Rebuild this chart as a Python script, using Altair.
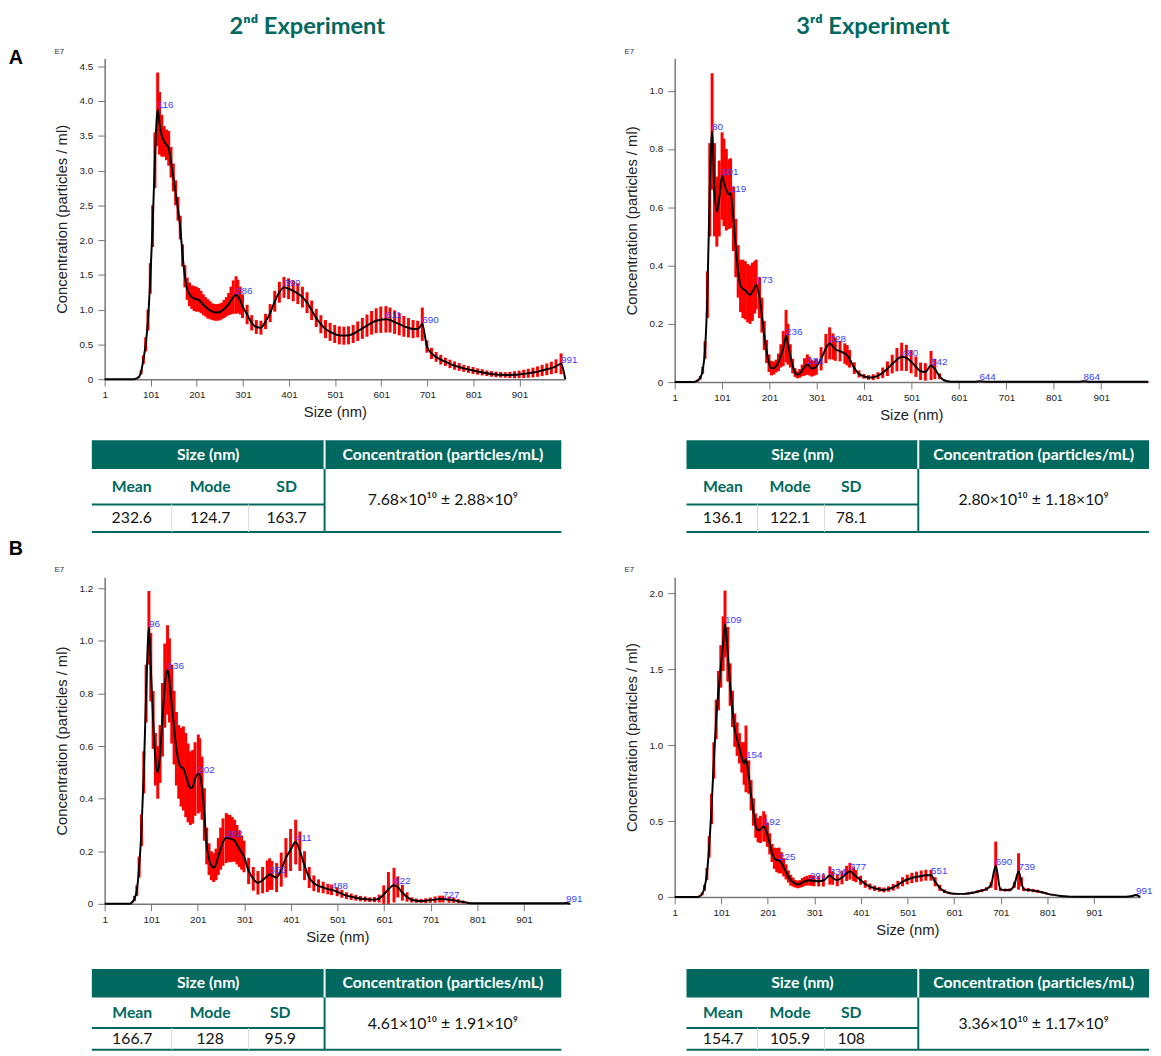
import altair as alt
import pandas as pd

TEAL = "#00695f"
RED = "#ff0000"
BLUE = "#3c3cff"

# ---------------- 2nd Experiment, panel A ----------------
a2_x = [1,5,10,15,20,25,30,35,40,45,50,55,60,65,70,75,80,85,90,95,100,105,110,116,120,125,130,135,140,145,150,155,160,165,170,175,180,185,190,195,200,205,210,215,220,225,230,235,240,245,250,255,260,265,270,275,280,286,290,295,300,
        310,320,330,340,350,360,370,380,390,400,410,420,430,440,450,460,470,480,490,500,510,520,530,540,550,560,570,580,590,600,611,
        620,630,640,650,660,670,680,690,700,710,720,730,740,750,760,770,780,790,800,810,820,830,840,850,860,870,880,890,900,910,920,930,940,950,960,970,980,991,1000]
a2_y = [0,0,0,0,0,0,0,0,0,0,0,0,0,0,0.01,0.03,0.10,0.28,0.50,0.85,1.45,2.20,3.15,3.88,3.68,3.50,3.42,3.37,3.32,3.12,2.90,2.68,2.45,2.18,1.78,1.48,1.30,1.22,1.18,1.16,1.15,1.14,1.11,1.07,1.04,1.01,0.99,0.97,0.96,0.96,0.965,0.98,1.01,1.04,1.08,1.13,1.18,1.21,1.19,1.13,1.05,
        0.93,0.81,0.75,0.74,0.83,0.95,1.12,1.25,1.32,1.30,1.27,1.23,1.18,1.10,0.99,0.88,0.79,0.72,0.68,0.65,0.63,0.625,0.63,0.65,0.69,0.73,0.77,0.81,0.84,0.855,0.86,
        0.85,0.82,0.79,0.76,0.74,0.72,0.72,0.79,0.47,0.37,0.32,0.28,0.25,0.22,0.195,0.175,0.155,0.14,0.125,0.11,0.098,0.085,0.075,0.068,0.063,0.06,0.06,0.063,0.068,0.076,0.085,0.095,0.108,0.125,0.142,0.16,0.185,0.22,0.0]
a2_err = [0,0,0,0,0,0,0,0,0,0,0,0,0,0,0.005,0.01,0.03,0.06,0.10,0.15,0.22,0.30,0.40,0.53,0.45,0.30,0.22,0.22,0.25,0.22,0.20,0.18,0.17,0.17,0.16,0.16,0.16,0.17,0.17,0.18,0.18,0.17,0.16,0.15,0.14,0.14,0.13,0.12,0.12,0.12,0.12,0.12,0.13,0.14,0.16,0.20,0.24,0.27,0.24,0.20,0.17,
          0.14,0.11,0.10,0.10,0.11,0.13,0.15,0.15,0.15,0.15,0.15,0.15,0.15,0.15,0.14,0.13,0.13,0.13,0.13,0.13,0.13,0.13,0.13,0.13,0.14,0.15,0.16,0.17,0.18,0.19,0.19,
          0.18,0.17,0.16,0.15,0.14,0.13,0.12,0.24,0.09,0.08,0.07,0.07,0.06,0.06,0.06,0.055,0.05,0.05,0.05,0.045,0.045,0.04,0.04,0.04,0.04,0.04,0.045,0.05,0.055,0.06,0.065,0.07,0.075,0.08,0.085,0.09,0.10,0.15,0]
a2_peaks = [116, 286, 390, 611, 690, 991]

# ---------------- 3rd Experiment, panel A ----------------
a3_x = [1,5,10,15,20,25,30,35,40,45,50,55,60,65,70,75,80,85,90,95,101,105,110,115,119,125,130,135,140,145,150,155,160,165,170,173,180,185,190,195,200,205,210,215,220,225,230,236,240,245,250,255,260,265,270,275,281,285,290,295,300,
        310,320,328,335,340,350,360,365,370,380,390,400,410,420,430,440,450,460,470,480,490,500,510,520,530,542,550,560,570,580,590,600,610,620,630,640,644,650,
        660,670,680,690,700,710,720,730,740,750,760,770,780,790,800,810,820,830,840,850,860,864,870,880,890,900,910,920,930,940,950,960,970,980,990,1000]
a3_y = [0,0,0,0,0,0,0,0,0,0.002,0.006,0.015,0.04,0.11,0.30,0.66,0.86,0.66,0.585,0.63,0.707,0.685,0.66,0.645,0.648,0.56,0.46,0.38,0.33,0.32,0.315,0.305,0.30,0.31,0.325,0.335,0.29,0.23,0.16,0.105,0.065,0.048,0.048,0.055,0.068,0.09,0.115,0.158,0.13,0.09,0.055,0.033,0.025,0.03,0.04,0.052,0.06,0.055,0.047,0.048,0.053,
        0.08,0.115,0.133,0.122,0.113,0.106,0.098,0.092,0.08,0.048,0.028,0.02,0.016,0.017,0.022,0.032,0.046,0.062,0.077,0.087,0.083,0.07,0.053,0.037,0.035,0.057,0.045,0.02,0.006,0.002,0.001,0.001,0.001,0.001,0.001,0.002,0.003,0.002,
        0.001,0.001,0.001,0.001,0.001,0.001,0.001,0.001,0.001,0.001,0.001,0.001,0.001,0.001,0.001,0.001,0.001,0.001,0.001,0.001,0.002,0.003,0.002,0.001,0.001,0.001,0.001,0.001,0.001,0.001,0.001,0.001,0.001,0.001,0.001,0.001]
a3_err = [0,0,0,0,0,0,0,0,0,0.001,0.003,0.006,0.012,0.03,0.08,0.16,0.20,0.16,0.12,0.13,0.15,0.15,0.14,0.12,0.12,0.11,0.10,0.09,0.09,0.10,0.10,0.10,0.10,0.10,0.09,0.085,0.07,0.06,0.05,0.04,0.03,0.025,0.022,0.022,0.03,0.04,0.06,0.09,0.07,0.04,0.025,0.015,0.012,0.015,0.02,0.03,0.035,0.032,0.028,0.026,0.028,
          0.04,0.05,0.055,0.045,0.04,0.035,0.035,0.035,0.03,0.02,0.012,0.008,0.008,0.01,0.012,0.018,0.025,0.032,0.04,0.048,0.045,0.04,0.035,0.03,0.03,0.05,0.035,0.01,0.003,0.001,0.001,0.001,0.001,0.001,0.001,0.002,0.002,0.002,
          0.001,0.001,0.001,0.001,0.001,0.001,0.001,0.001,0.001,0.001,0.001,0.001,0.001,0.001,0.001,0.001,0.001,0.001,0.001,0.001,0.002,0.002,0.002,0.001,0.001,0.001,0.001,0.001,0.001,0.001,0.001,0.001,0.001,0.001,0.001,0.001]
a3_peaks = [80, 101, 119, 173, 236, 281, 328, 480, 542, 644, 864]

# ---------------- 2nd Experiment, panel B ----------------
b2_x = [1,5,10,15,20,25,30,35,40,45,50,55,60,65,70,75,80,85,90,96,100,105,110,115,120,125,130,136,140,145,150,155,160,165,170,175,180,185,190,195,202,205,210,215,220,225,230,235,240,245,250,255,262,265,270,275,280,285,290,295,300,
        310,320,330,340,350,355,360,370,380,390,400,411,420,430,440,450,460,470,480,488,500,510,520,530,540,550,560,570,580,590,600,610,622,630,640,650,660,670,680,690,700,710,720,727,
        740,750,760,770,780,790,800,810,820,830,840,850,860,870,880,890,900,910,920,930,940,950,960,970,980,991,1000]
b2_y = [0,0,0,0,0,0,0,0,0,0,0,0,0.006,0.02,0.05,0.14,0.28,0.50,0.80,1.05,0.90,0.70,0.55,0.50,0.57,0.70,0.83,0.89,0.85,0.76,0.67,0.59,0.54,0.52,0.515,0.49,0.46,0.44,0.445,0.475,0.494,0.49,0.44,0.34,0.22,0.17,0.145,0.138,0.15,0.18,0.21,0.235,0.25,0.25,0.248,0.245,0.24,0.225,0.21,0.195,0.18,
        0.125,0.095,0.08,0.09,0.105,0.113,0.108,0.10,0.13,0.175,0.205,0.235,0.20,0.145,0.10,0.078,0.068,0.062,0.056,0.053,0.046,0.038,0.031,0.027,0.023,0.02,0.018,0.016,0.016,0.02,0.035,0.056,0.071,0.064,0.042,0.026,0.015,0.012,0.011,0.012,0.014,0.016,0.018,0.018,
        0.016,0.014,0.01,0.007,0.004,0.002,0.002,0.002,0.002,0.002,0.002,0.002,0.002,0.002,0.002,0.002,0.002,0.002,0.002,0.002,0.002,0.002,0.002,0.002,0.002,0.003,0.0]
b2_err = [0,0,0,0,0,0,0,0,0,0,0,0,0.003,0.01,0.02,0.04,0.06,0.08,0.11,0.14,0.13,0.11,0.10,0.10,0.11,0.14,0.16,0.17,0.16,0.15,0.14,0.14,0.14,0.15,0.16,0.16,0.15,0.14,0.14,0.14,0.15,0.14,0.12,0.10,0.07,0.06,0.055,0.055,0.06,0.07,0.08,0.09,0.095,0.09,0.09,0.085,0.08,0.075,0.07,0.065,0.06,
          0.05,0.045,0.045,0.05,0.06,0.06,0.055,0.055,0.065,0.075,0.08,0.085,0.075,0.055,0.04,0.03,0.025,0.022,0.02,0.02,0.017,0.015,0.013,0.012,0.011,0.01,0.01,0.009,0.01,0.015,0.035,0.065,0.066,0.04,0.03,0.018,0.01,0.008,0.008,0.009,0.01,0.012,0.013,0.013,
          0.012,0.01,0.008,0.006,0.003,0.002,0.001,0.001,0.001,0.001,0.001,0.001,0.001,0.001,0.001,0.001,0.001,0.001,0.001,0.001,0.001,0.001,0.001,0.001,0.001,0.003,0]
b2_peaks = [96, 136, 202, 262, 355, 411, 488, 622, 727, 991]

# ---------------- 3rd Experiment, panel B ----------------
b3_x = [1,5,10,15,20,25,30,35,40,45,50,55,60,65,70,75,80,85,90,95,100,105,109,115,120,125,130,135,140,145,150,154,160,165,170,175,180,185,192,195,200,205,210,215,220,225,230,235,240,245,250,255,260,265,270,275,280,285,291,295,300,
        310,320,334,340,350,360,370,377,385,390,400,410,420,430,440,450,460,470,480,490,500,510,520,530,540,551,560,570,580,590,600,610,620,630,640,650,660,670,680,690,700,710,720,730,739,745,750,
        760,770,780,790,800,810,820,830,840,850,860,870,880,890,900,910,920,930,940,950,960,970,980,991,1000]
b3_y = [0,0,0,0,0,0,0,0,0,0,0,0.005,0.02,0.06,0.15,0.33,0.58,0.90,1.17,1.36,1.52,1.67,1.80,1.60,1.40,1.24,1.10,1.04,0.98,0.92,0.88,0.91,0.79,0.67,0.56,0.47,0.44,0.445,0.465,0.455,0.41,0.35,0.29,0.255,0.243,0.24,0.225,0.195,0.165,0.135,0.11,0.098,0.087,0.082,0.086,0.095,0.103,0.107,0.11,0.108,0.105,
        0.104,0.108,0.141,0.125,0.11,0.128,0.155,0.169,0.15,0.137,0.11,0.085,0.068,0.057,0.05,0.046,0.052,0.063,0.08,0.10,0.115,0.125,0.132,0.138,0.143,0.143,0.10,0.06,0.037,0.026,0.021,0.02,0.02,0.022,0.027,0.034,0.042,0.052,0.08,0.205,0.05,0.045,0.046,0.08,0.168,0.10,0.05,
        0.046,0.042,0.037,0.03,0.022,0.015,0.01,0.006,0.004,0.002,0.001,0.001,0.001,0.001,0.001,0.001,0.001,0.001,0.001,0.001,0.001,0.001,0.004,0.012,0.0]
b3_err = [0,0,0,0,0,0,0,0,0,0,0,0.003,0.01,0.02,0.04,0.07,0.10,0.12,0.13,0.13,0.14,0.18,0.22,0.18,0.14,0.12,0.11,0.11,0.10,0.10,0.14,0.22,0.11,0.10,0.09,0.08,0.08,0.09,0.10,0.09,0.08,0.07,0.06,0.07,0.08,0.085,0.07,0.06,0.05,0.04,0.035,0.03,0.025,0.025,0.025,0.03,0.03,0.032,0.035,0.035,0.035,
          0.035,0.04,0.06,0.045,0.04,0.045,0.05,0.055,0.045,0.04,0.03,0.025,0.02,0.018,0.016,0.016,0.018,0.022,0.026,0.03,0.032,0.034,0.035,0.036,0.036,0.036,0.03,0.02,0.012,0.008,0.006,0.006,0.006,0.007,0.008,0.009,0.01,0.012,0.02,0.16,0.012,0.01,0.01,0.02,0.12,0.03,0.012,
          0.012,0.011,0.01,0.008,0.006,0.005,0.003,0.002,0.001,0.001,0.001,0.001,0.001,0.001,0.001,0.001,0.001,0.001,0.001,0.001,0.001,0.001,0.002,0.005,0]
b3_peaks = [109, 154, 192, 225, 291, 334, 377, 551, 690, 739, 991]

# ---------------- tables ----------------
stat_names = ["Mean", "Mode", "SD"]
table_headers = ["Size (nm)", "Concentration (particles/mL)"]
a2_stats = ["232.6", "124.7", "163.7"]
a3_stats = ["136.1", "122.1", "78.1"]
b2_stats = ["166.7", "128", "95.9"]
b3_stats = ["154.7", "105.9", "108"]
a2_conc = "7.68×10¹⁰ ± 2.88×10⁹"
a3_conc = "2.80×10¹⁰ ± 1.18×10⁹"
b2_conc = "4.61×10¹⁰ ± 1.91×10⁹"
b3_conc = "3.36×10¹⁰ ± 1.17×10⁹"

TFONT = "Lato"
AFONT = "Liberation Sans"


def make_table(stats, conc, lay):
    W = lay["W"]
    h0, h1, h2 = lay["rows"]
    H = h0 + h1 + h2
    div = lay["div"]
    e1, e2 = lay["edges"]
    c = lay["centers"]
    tx = alt.Scale(domain=[0, W], range=[lay["x0"], lay["x0"] + W], nice=False, zero=False)
    ty = alt.Scale(domain=[0, H], range=[lay["y0"], lay["y0"] + H], nice=False, zero=False)

    def X(f):
        return alt.X(f, type="quantitative", scale=tx, axis=None)

    def Y(f):
        return alt.Y(f, type="quantitative", scale=ty, axis=None)

    head = alt.Chart(pd.DataFrame({"x": [0], "x2": [W], "y": [0], "y2": [h0]})).mark_rect(
        color=TEAL).encode(x=X("x"), x2="x2", y=Y("y"), y2="y2")
    teal_lines = alt.Chart(pd.DataFrame({
        "x": [0, 0, div], "x2": [div, W, div], "y": [h0 + h1, H, h0], "y2": [h0 + h1, H, H]})).mark_rule(
        color=TEAL, strokeWidth=2).encode(x=X("x"), x2="x2", y=Y("y"), y2="y2")
    white_line = alt.Chart(pd.DataFrame({"x": [div], "x2": [div], "y": [0], "y2": [h0]})).mark_rule(
        color="white", strokeWidth=2).encode(x=X("x"), x2="x2", y=Y("y"), y2="y2")
    grey_lines = alt.Chart(pd.DataFrame({"x": [e1, e2], "x2": [e1, e2], "y": [h0 + h1] * 2, "y2": [H] * 2})).mark_rule(
        color="#d8d8d8", strokeWidth=1).encode(x=X("x"), x2="x2", y=Y("y"), y2="y2")
    head_txt = alt.Chart(pd.DataFrame({"t": table_headers, "x": [div / 2, (div + W) / 2], "y": [h0 / 2] * 2})).mark_text(
        font=TFONT, fontSize=16, fontWeight="bold", color="white", baseline="middle").encode(x=X("x"), y=Y("y"), text="t:N")
    name_txt = alt.Chart(pd.DataFrame({"t": stat_names, "x": c, "y": [h0 + h1 / 2] * 3})).mark_text(
        font=TFONT, fontSize=16, fontWeight="bold", color=TEAL, baseline="middle").encode(x=X("x"), y=Y("y"), text="t:N")
    val_txt = alt.Chart(pd.DataFrame({"t": stats, "x": c, "y": [h0 + h1 + h2 / 2] * 3})).mark_text(
        font=TFONT, fontSize=16, color="#111", baseline="middle").encode(x=X("x"), y=Y("y"), text="t:N")
    conc_txt = alt.Chart(pd.DataFrame({"t": [conc], "x": [(div + W) / 2], "y": [h0 + (h1 + h2) / 2]})).mark_text(
        font=TFONT, fontSize=16, color="#111", baseline="middle").encode(x=X("x"), y=Y("y"), text="t:N")
    return alt.layer(head, white_line, teal_lines, grey_lines, head_txt, name_txt, val_txt, conc_txt)


def make_panel(x, y, err, peaks, ymax, yticks, width, height, table, title=None, title_dx=0, letter=None, letter_y=0):
    rows = list(zip(x, y, err))
    df = pd.DataFrame(rows, columns=["size", "conc", "err"])
    df["lo"] = (df["conc"] - df["err"]).clip(lower=0)
    df["hi"] = df["conc"] + df["err"]
    bars_df = df[df["err"] > 0]
    lookup = dict(zip(df["size"], df["conc"]))
    lab_df = pd.DataFrame({"size": peaks, "conc": [lookup.get(p, 0) for p in peaks],
                           "t": [str(p) for p in peaks]})

    xs = alt.Scale(domain=[1, 1000], nice=False, zero=False)
    ys = alt.Scale(domain=[0, ymax], nice=False, zero=False)
    xaxis = alt.Axis(values=list(range(1, 1000, 100)), title="Size (nm)", labelFlush=False,
                     labelOverlap=False, labelPadding=4, titlePadding=5)
    yaxis = alt.Axis(values=yticks, title="Concentration (particles / ml)", labelOverlap=False,
                     labelPadding=5, titlePadding=10,
                     labelExpr="datum.value == 0 ? '0' : format(datum.value, '.1f')")

    bars = alt.Chart(bars_df).mark_rule(color=RED, strokeWidth=3).encode(
        x=alt.X("size:Q", scale=xs, axis=xaxis), y=alt.Y("lo:Q", scale=ys, axis=yaxis), y2="hi:Q")
    line = alt.Chart(df).mark_line(color="black", strokeWidth=2, interpolate="monotone").encode(
        x=alt.X("size:Q", scale=xs, axis=xaxis), y=alt.Y("conc:Q", scale=ys, axis=yaxis))
    labels = alt.Chart(lab_df).mark_text(color=BLUE, font=AFONT, fontSize=10, align="left",
                                         baseline="bottom", dy=1).encode(
        x=alt.X("size:Q", scale=xs, axis=xaxis), y=alt.Y("conc:Q", scale=ys, axis=yaxis), text="t:N")
    e7 = alt.Chart(pd.DataFrame({"t": ["E7"]})).mark_text(font=AFONT, fontSize=8, color="#333",
                                                          align="center", baseline="middle").encode(
        x=alt.value(-46), y=alt.value(-7), text="t:N")
    parts = [bars, line, labels, e7]
    if letter:
        parts.append(alt.Chart(pd.DataFrame({"t": [letter]})).mark_text(
            font=AFONT, fontSize=20, fontWeight="bold", color="black", align="center", baseline="middle").encode(
            x=alt.value(-90), y=alt.value(letter_y), text="t:N"))
    plot = alt.layer(*parts)
    tbl = make_table(*table)
    ch = alt.layer(plot, tbl).resolve_scale(x="independent", y="independent").properties(width=width, height=height)
    if title:
        ch = ch.properties(title=alt.TitleParams(title, font=TFONT, fontSize=24, fontWeight="bold", color=TEAL,
                                                 anchor="middle", frame="group", dx=title_dx, offset=9))
    return ch


lay_left_top = {"x0": -13, "W": 476, "y0": 387, "rows": [29, 36, 28], "div": 236, "edges": [81, 159],
                "centers": [40.5, 120, 197.5]}
lay_right_top = {"x0": 12, "W": 469, "y0": 387, "rows": [29, 36, 28], "div": 235, "edges": [72, 140],
                 "centers": [37, 105, 167]}
lay_left_bot = {"x0": -13, "W": 476, "y0": 397, "rows": [29, 31, 22], "div": 236, "edges": [81, 159],
                "centers": [41, 120, 191]}
lay_right_bot = {"x0": 12, "W": 469, "y0": 397, "rows": [29, 31, 22], "div": 235, "edges": [72, 140],
                 "centers": [37, 105, 167]}

pA2 = make_panel(a2_x, a2_y, a2_err, a2_peaks, 4.61, [0, 0.5, 1, 1.5, 2, 2.5, 3, 3.5, 4, 4.5], 467, 325,
                 (a2_stats, a2_conc, lay_left_top), title="2ⁿᵈ Experiment", title_dx=-28, letter="A", letter_y=-1)
pA3 = make_panel(a3_x, a3_y, a3_err, a3_peaks, 1.11, [0, 0.2, 0.4, 0.6, 0.8, 1.0], 480, 328,
                 (a3_stats, a3_conc, lay_right_top), title="3ʳᵈ Experiment", title_dx=-39)
pB2 = make_panel(b2_x, b2_y, b2_err, b2_peaks, 1.242, [0, 0.2, 0.4, 0.6, 0.8, 1.0, 1.2], 472, 331,
                 (b2_stats, b2_conc, lay_left_bot), letter="B", letter_y=-29)
pB3 = make_panel(b3_x, b3_y, b3_err, b3_peaks, 2.107, [0, 0.5, 1.0, 1.5, 2.0], 472, 324,
                 (b3_stats, b3_conc, lay_right_bot))

chart = alt.concat(pA2, pA3, pB2, pB3, columns=2, spacing={"row": 198, "column": 106}, bounds="flush").properties(
    padding=0
).configure_view(stroke=None).configure_axis(
    grid=False, domainColor="#777", domainWidth=1.5, tickColor="#777", tickWidth=1, tickSize=7,
    labelFont=AFONT, labelFontSize=10, labelColor="#222",
    titleFont=AFONT, titleFontSize=15, titleFontWeight="normal", titleColor="#222"
)

chart.save("out.html", embed_options={"renderer": "svg", "actions": False})
